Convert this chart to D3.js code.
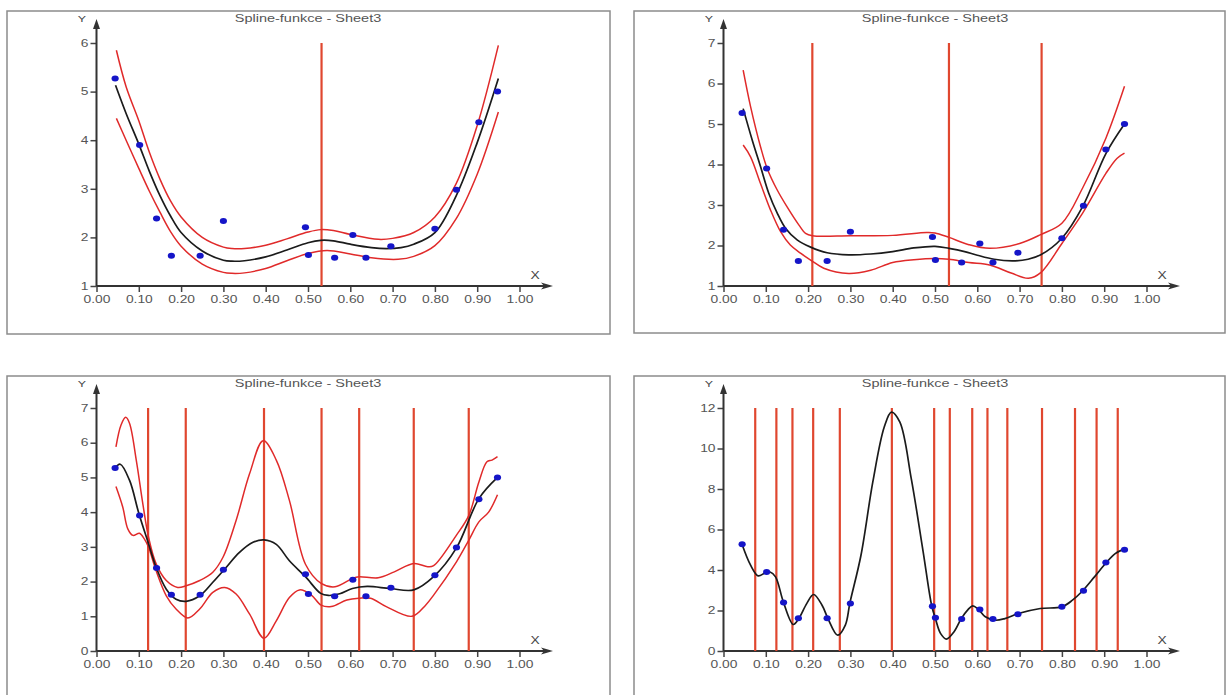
<!DOCTYPE html>
<html><head><meta charset="utf-8">
<script src="https://cdn.jsdelivr.net/npm/d3@7"></script>
<style>body{margin:0;background:#fff}svg{display:block}</style>
</head><body>
<svg id="c" width="1227" height="695"></svg>
<script>
// ---------- data ----------
const chartTitle = "Spline-funkce - Sheet3";
const xTickValues = [0,0.1,0.2,0.3,0.4,0.5,0.6,0.7,0.8,0.9,1.0];

const pointX = [0.044,0.102,0.142,0.177,0.245,0.300,0.494,0.501,0.563,0.606,0.637,0.696,0.800,0.851,0.904,0.948];
const pointY = [5.27,3.90,2.39,1.62,1.62,2.34,2.21,1.64,1.58,2.05,1.58,1.82,2.18,2.98,4.37,5.00];

// panel 1 (1 knot)
const p1Knots = [0.532];
const p1YTicks = [1,2,3,4,5,6];
const p1FitX = [0.045,0.07,0.10,0.125,0.15,0.175,0.20,0.25,0.30,0.32,0.35,0.40,0.45,0.50,0.53,0.56,0.60,0.65,0.685,0.72,0.75,0.80,0.85,0.90,0.95];
const p1FitY = [5.13,4.55,3.92,3.36,2.86,2.44,2.10,1.72,1.53,1.51,1.52,1.60,1.74,1.89,1.94,1.93,1.86,1.79,1.77,1.79,1.86,2.10,2.85,3.95,5.27];
const p1UpX = [0.047,0.07,0.10,0.125,0.15,0.175,0.20,0.25,0.30,0.32,0.35,0.40,0.45,0.50,0.53,0.56,0.60,0.666,0.70,0.75,0.80,0.85,0.90,0.95];
const p1UpY = [5.85,5.10,4.40,3.75,3.20,2.75,2.42,2.00,1.80,1.77,1.77,1.84,1.97,2.11,2.16,2.14,2.06,1.96,1.98,2.10,2.42,3.10,4.30,5.95];
const p1LoX = [0.047,0.07,0.10,0.125,0.15,0.175,0.20,0.25,0.30,0.32,0.35,0.40,0.45,0.50,0.545,0.60,0.65,0.713,0.75,0.80,0.85,0.90,0.95];
const p1LoY = [4.45,4.00,3.42,2.95,2.52,2.12,1.82,1.45,1.28,1.26,1.27,1.36,1.52,1.67,1.73,1.66,1.58,1.55,1.61,1.83,2.38,3.30,4.58];

// panel 2 (3 knots)
const p2Knots = [0.210,0.533,0.752];
const p2YTicks = [1,2,3,4,5,6,7];
const p2FitX = [0.0465,0.068,0.0875,0.107,0.127,0.147,0.174,0.206,0.245,0.296,0.348,0.40,0.45,0.50,0.533,0.57,0.60,0.64,0.684,0.72,0.75,0.80,0.849,0.904,0.948];
const p2FitY = [5.38,4.60,3.95,3.29,2.80,2.42,2.14,1.96,1.82,1.77,1.79,1.85,1.94,1.98,1.93,1.85,1.76,1.66,1.62,1.66,1.77,2.18,2.96,4.27,5.00];
const p2UpX = [0.0465,0.064,0.0875,0.103,0.127,0.15,0.178,0.194,0.21,0.30,0.40,0.48,0.50,0.533,0.58,0.629,0.70,0.75,0.80,0.849,0.904,0.948];
const p2UpY = [6.33,5.43,4.44,3.91,3.37,2.96,2.51,2.30,2.24,2.24,2.25,2.32,2.31,2.20,2.02,1.93,2.05,2.27,2.55,3.42,4.65,5.93];
const p2LoX = [0.0465,0.064,0.0875,0.111,0.135,0.158,0.182,0.206,0.237,0.296,0.348,0.40,0.45,0.50,0.533,0.58,0.629,0.68,0.721,0.75,0.80,0.849,0.904,0.93,0.948];
const p2LoY = [4.48,4.19,3.53,2.88,2.34,2.01,1.81,1.64,1.44,1.31,1.39,1.58,1.65,1.68,1.66,1.58,1.52,1.32,1.19,1.33,2.05,2.80,3.78,4.15,4.28];

// panel 3 (7 knots)
const p3Knots = [0.122,0.211,0.396,0.532,0.621,0.750,0.880];
const p3YTicks = [0,1,2,3,4,5,6,7];
const p3FitX = [0.043,0.056,0.078,0.10,0.123,0.141,0.165,0.188,0.212,0.244,0.275,0.303,0.338,0.37,0.396,0.425,0.456,0.494,0.53,0.548,0.575,0.605,0.64,0.694,0.75,0.797,0.851,0.904,0.948];
const p3FitY = [5.26,5.38,4.92,3.97,3.09,2.41,1.78,1.49,1.43,1.59,1.98,2.36,2.84,3.13,3.20,3.07,2.60,2.14,1.66,1.60,1.65,1.80,1.86,1.80,1.76,2.14,2.97,4.39,5.00];
const p3UpX = [0.046,0.058,0.069,0.078,0.094,0.11,0.123,0.141,0.165,0.192,0.212,0.244,0.275,0.299,0.33,0.362,0.394,0.425,0.456,0.494,0.531,0.564,0.605,0.62,0.666,0.704,0.75,0.783,0.797,0.851,0.88,0.904,0.923,0.935,0.948];
const p3UpY = [5.88,6.51,6.73,6.56,5.50,4.20,3.28,2.51,2.03,1.83,1.88,2.03,2.27,2.70,3.76,5.11,6.06,5.50,4.34,2.50,1.95,1.85,2.09,2.14,2.11,2.28,2.52,2.43,2.46,3.34,3.90,4.87,5.45,5.50,5.60];
const p3LoX = [0.046,0.062,0.074,0.086,0.1017,0.113,0.123,0.141,0.165,0.188,0.216,0.244,0.275,0.303,0.33,0.362,0.396,0.425,0.456,0.48,0.508,0.531,0.555,0.592,0.62,0.648,0.685,0.746,0.778,0.797,0.851,0.88,0.904,0.927,0.948];
const p3LoY = [4.74,4.15,3.52,3.33,3.39,3.23,2.99,2.31,1.59,1.21,0.95,1.21,1.69,1.83,1.64,1.06,0.37,0.87,1.54,1.76,1.61,1.32,1.28,1.47,1.52,1.52,1.28,1.00,1.32,1.61,2.57,3.19,3.72,4.00,4.50];

// panel 4 (15 knots, interpolating)
const p4Knots = [0.075,0.125,0.163,0.212,0.275,0.398,0.498,0.535,0.588,0.624,0.671,0.753,0.831,0.882,0.932];
const p4YTicks = [0,2,4,6,8,10,12];
const p4FitX = [0.044,0.064,0.082,0.098,0.110,0.123,0.142,0.165,0.178,0.197,0.213,0.233,0.247,0.270,0.288,0.299,0.325,0.353,0.380,0.397,0.417,0.444,0.472,0.492,0.501,0.513,0.527,0.545,0.562,0.577,0.589,0.602,0.619,0.642,0.665,0.697,0.749,0.800,0.825,0.848,0.877,0.903,0.926,0.947];
const p4FitY = [5.26,4.24,3.71,3.85,3.90,3.66,2.39,1.31,1.60,2.35,2.79,2.26,1.60,0.78,1.28,2.39,4.73,8.35,11.06,11.80,11.30,8.50,4.90,2.26,1.60,0.87,0.59,0.95,1.60,2.02,2.23,2.07,1.69,1.52,1.60,1.85,2.10,2.18,2.51,2.95,3.66,4.32,4.81,5.03];

// ---------- drawing ----------
const svg = d3.select("#c");
const zip = (xs, ys) => xs.map((x, i) => [x, ys[i]]);
const SX = 1.38; // horizontal stretch of the reference text

const panels = [
  {ox:0,   oy:0,   bw:603, bh:323, yTicks:p1YTicks, knots:p1Knots, fit:zip(p1FitX,p1FitY), up:zip(p1UpX,p1UpY), lo:zip(p1LoX,p1LoY)},
  {ox:627, oy:0,   bw:591, bh:322, yTicks:p2YTicks, knots:p2Knots, fit:zip(p2FitX,p2FitY), up:zip(p2UpX,p2UpY), lo:zip(p2LoX,p2LoY)},
  {ox:0,   oy:365, bw:603, bh:400, yTicks:p3YTicks, knots:p3Knots, fit:zip(p3FitX,p3FitY), up:zip(p3UpX,p3UpY), lo:zip(p3LoX,p3LoY)},
  {ox:627, oy:365, bw:591, bh:400, yTicks:p4YTicks, knots:p4Knots, fit:zip(p4FitX,p4FitY), up:null, lo:null}
];

function sText(g, x, y, str, anchor, size, fill) {
  return g.append("text")
    .attr("transform", `translate(${x},${y}) scale(${SX},1)`)
    .attr("text-anchor", anchor)
    .style("font-family", "'Liberation Sans', Arial, sans-serif")
    .style("font-size", size + "px")
    .attr("fill", fill || "#555")
    .text(str);
}

panels.forEach(p => {
  const g = svg.append("g").attr("transform", `translate(${p.ox},${p.oy})`);
  // border
  g.append("rect").attr("x", 7).attr("y", 11).attr("width", p.bw).attr("height", p.bh)
    .attr("fill", "none").attr("stroke", "#8c8c8c").attr("stroke-width", 1.5);

  const yMin = d3.min(p.yTicks), yMax = d3.max(p.yTicks);
  const x = d3.scaleLinear().domain([0, 1]).range([96.5, 519.5]);
  const y = d3.scaleLinear().domain([yMin, yMax]).range([286, 43]);

  // title
  sText(g, 308, 21.5, chartTitle, "middle", 10.5, "#555");

  // axes (ticks via d3 axis)
  const xAxis = g.append("g").attr("transform", `translate(0,${y(yMin)})`)
    .call(d3.axisBottom(x).tickValues(xTickValues).tickFormat(d3.format(".2f")).tickSize(6).tickSizeOuter(0));
  const yAxis = g.append("g").attr("transform", `translate(${x(0)},0)`)
    .call(d3.axisLeft(y).tickValues(p.yTicks).tickFormat(d3.format("d")).tickSize(6).tickSizeOuter(0));
  [xAxis, yAxis].forEach(a => {
    a.select(".domain").remove();
    a.selectAll(".tick line").attr("stroke", "#444").attr("stroke-width", 1.5);
    a.selectAll(".tick text").attr("fill", "#555")
      .style("font-family", "'Liberation Sans', Arial, sans-serif").style("font-size", "10px");
  });
  xAxis.selectAll(".tick text").attr("y", 10).attr("dy", "0.71em").attr("transform", `scale(${SX},1)`);
  yAxis.selectAll(".tick text").attr("x", -8 / SX).attr("transform", `scale(${SX},1)`);

  // axis lines with arrows
  const x0 = x(0), yb = y(yMin);
  g.append("line").attr("x1", x0).attr("y1", yb).attr("x2", x0).attr("y2", 24)
    .attr("stroke", "#333").attr("stroke-width", 2);
  g.append("path").attr("d", `M${x0},19 L${x0 - 3.5},29 L${x0 + 3.5},29 Z`).attr("fill", "#333");
  g.append("line").attr("x1", x0).attr("y1", yb).attr("x2", 547).attr("y2", yb)
    .attr("stroke", "#333").attr("stroke-width", 2);
  g.append("path").attr("d", `M553,${yb} L541,${yb - 3.5} L544,${yb} L541,${yb + 3.5} Z`).attr("fill", "#333");
  sText(g, 82, 22, "Y", "middle", 9, "#444");
  sText(g, 535, 279, "X", "middle", 10, "#444");

  // knots
  g.selectAll(".knot").data(p.knots).enter().append("line")
    .attr("x1", d => x(d)).attr("x2", d => x(d))
    .attr("y1", y(yMax)).attr("y2", y(yMin))
    .attr("stroke", "#e0472f").attr("stroke-width", 2.2);

  const line = d3.line().x(d => x(d[0])).y(d => y(d[1])).curve(d3.curveCatmullRom.alpha(0.5));
  if (p.up) g.append("path").attr("d", line(p.up)).attr("fill", "none").attr("stroke", "#e02a2a").attr("stroke-width", 1.5);
  if (p.lo) g.append("path").attr("d", line(p.lo)).attr("fill", "none").attr("stroke", "#e02a2a").attr("stroke-width", 1.5);
  g.append("path").attr("d", line(p.fit)).attr("fill", "none").attr("stroke", "#1b1b1b").attr("stroke-width", 1.7);

  // data points
  g.selectAll(".pt").data(zip(pointX, pointY)).enter().append("ellipse")
    .attr("cx", d => x(d[0])).attr("cy", d => y(d[1]))
    .attr("rx", 3.6).attr("ry", 3).attr("fill", "#1515c8");
});
</script>
</body></html>
